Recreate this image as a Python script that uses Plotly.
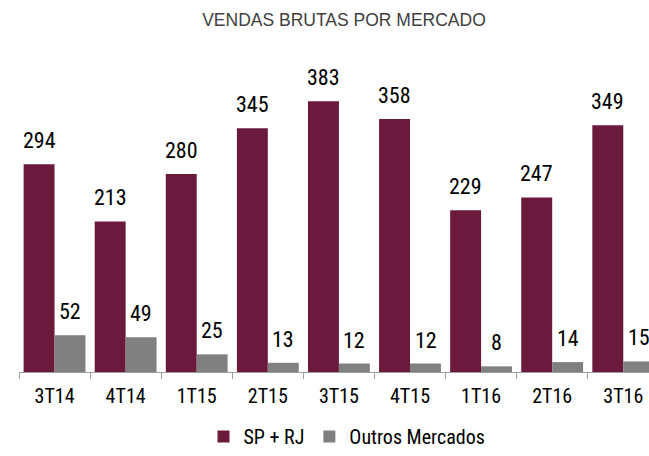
import plotly.graph_objects as go

categories = ["3T14", "4T14", "1T15", "2T15", "3T15", "4T15", "1T16", "2T16", "3T16"]
sp_rj = [294, 213, 280, 345, 383, 358, 229, 247, 349]
outros = [52, 49, 25, 13, 12, 12, 8, 14, 15]

NARROW = "Roboto Condensed, Liberation Sans Narrow, Arial Narrow, sans-serif"
MAROON = "#6B1A3C"
GRAY = "#808080"

fig = go.Figure()
fig.add_trace(go.Bar(x=categories, y=sp_rj, name="SP + RJ", marker=dict(color=MAROON, line=dict(width=0))))
fig.add_trace(go.Bar(x=categories, y=outros, name="Outros Mercados", marker=dict(color=GRAY, line=dict(width=0))))

annotations = []
for c, v in zip(categories, sp_rj):
    annotations.append(dict(x=c, y=v, xref="x", yref="y", text=str(v), showarrow=False,
                            xshift=-15.5, yshift=9, yanchor="bottom",
                            font=dict(family=NARROW, size=22, color="black")))
for c, v in zip(categories, outros):
    annotations.append(dict(x=c, y=v, xref="x", yref="y", text=str(v), showarrow=False,
                            xshift=15.5, yshift=9, yanchor="bottom",
                            font=dict(family=NARROW, size=22, color="black")))

fig.update_layout(
    width=649, height=456,
    margin=dict(l=19, r=0, t=60, b=84, autoexpand=False),
    paper_bgcolor="white", plot_bgcolor="white",
    barmode="group", bargap=0.13, bargroupgap=0,
    title=dict(text="VENDAS BRUTAS POR MERCADO", x=0.530, xref="container", xanchor="center",
               y=1 - 20 / 456, yref="container", yanchor="middle",
               font=dict(family="Liberation Sans, Arial, sans-serif", size=17.5, color="#404040")),
    showlegend=True,
    legend=dict(orientation="h", x=347 / 649, xref="container", xanchor="center",
                y=0, yref="container", yanchor="bottom",
                font=dict(family=NARROW, size=20, color="black"), bgcolor="rgba(0,0,0,0)"),
    annotations=annotations,
)
fig.update_xaxes(type="category", range=[-0.5, 8.362], showline=True, linecolor="#A0A0A0", linewidth=1,
                 ticks="outside", tickson="boundaries", ticklen=6, tickcolor="#A0A0A0",
                 tickfont=dict(family=NARROW, size=20, color="black"), ticklabelstandoff=6,
                 showgrid=False, zeroline=False, fixedrange=True, automargin=False)
fig.update_yaxes(range=[0, 441.4], visible=False, showgrid=False, zeroline=False, automargin=False)

fig.write_html("out.html", post_script="document.body.style.margin='0';",
               config={"displayModeBar": False})
